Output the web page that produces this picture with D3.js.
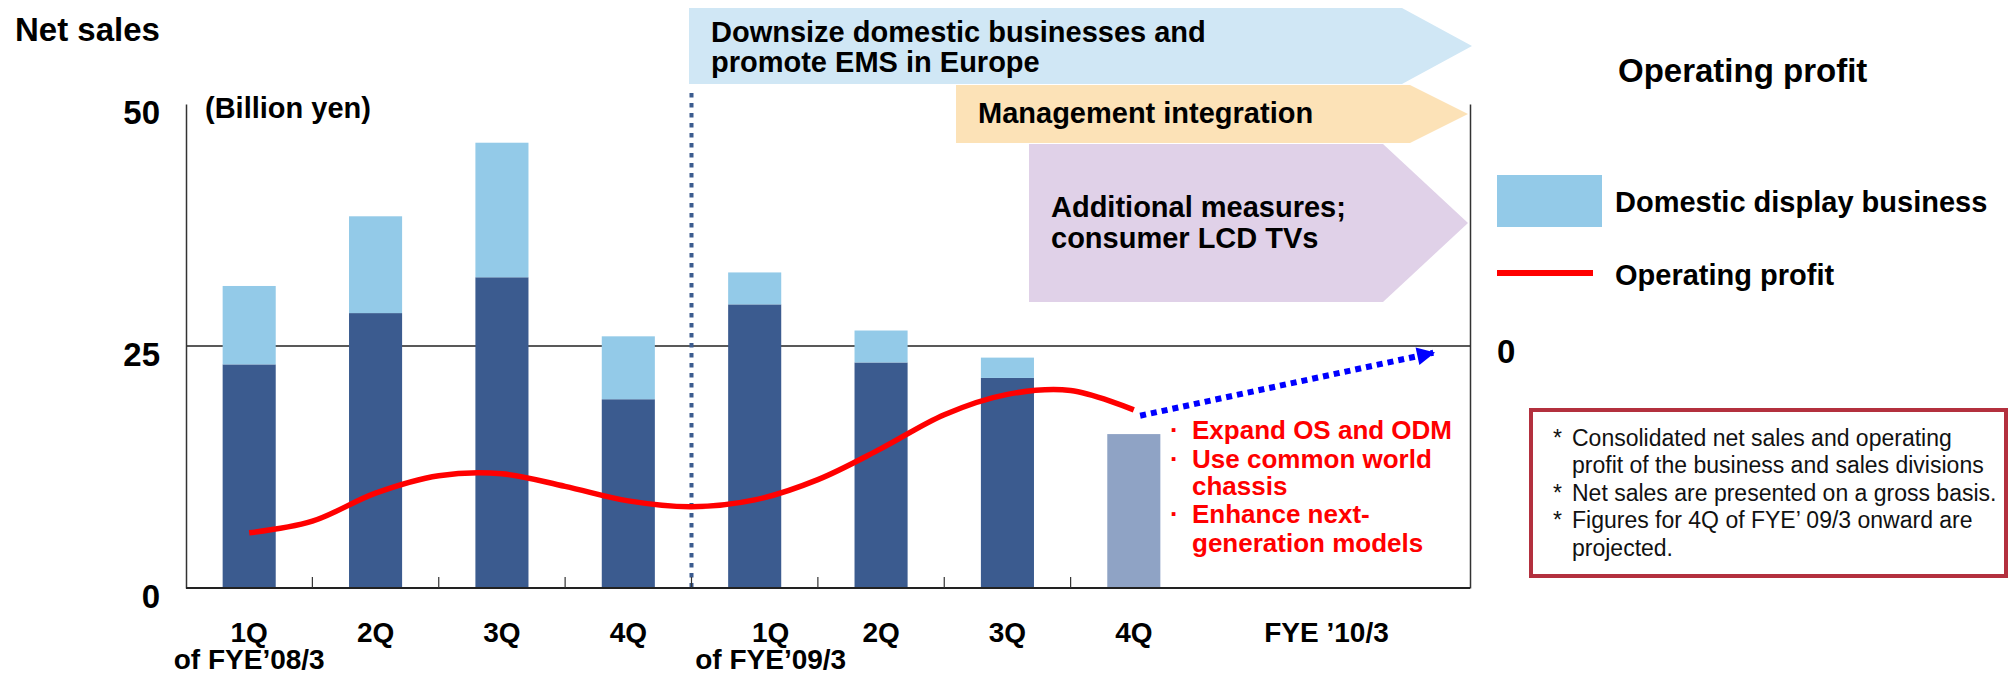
<!DOCTYPE html>
<html>
<head>
<meta charset="utf-8">
<script src="https://cdn.jsdelivr.net/npm/d3@7"></script>
<style>
  body { margin: 0; background: #fff; }
  text { font-family: "Liberation Sans", Arial, sans-serif; }
</style>
</head>
<body>
<div id="chart"></div>
<script>
// data
var periods = ["1Q-08", "2Q-08", "3Q-08", "4Q-08", "1Q-09", "2Q-09", "3Q-09", "4Q-09"];
var quarterLabels = ["1Q", "2Q", "3Q", "4Q", "1Q", "2Q", "3Q", "4Q"];
var yearLabels = ["of FYE\u201908/3", "", "", "", "of FYE\u201909/3", "", "", ""];
var otherSales = [23.1, 28.4, 32.1, 19.5, 29.3, 23.3, 21.7, 15.9];
var domesticSales = [8.1, 10.0, 13.9, 6.5, 3.3, 3.3, 2.1, 0];
var projected = [false, false, false, false, false, false, false, true];

// operating profit, read at half-quarter steps (index units)
var profitSteps = [0, 0.5, 1, 1.5, 2, 2.5, 3, 3.5, 4, 4.5, 5, 5.5, 6, 6.5, 7];
var operatingProfit = [-19.3, -18.1, -15.2, -13.4, -13.2, -14.5, -16.0, -16.6, -15.9, -13.8, -10.6, -7.1, -5.0, -4.6, -6.6];
var projSteps = [7.05, 9.37];
var projProfit = [-7.2, -0.7];

var leftTicks = [0, 25, 50];
var rightTicks = [0];
var nextYearLabel = "FYE \u201910/3";

var banners = [
  ["Downsize domestic businesses and", "promote EMS in Europe"],
  ["Management integration"],
  ["Additional measures;", "consumer LCD TVs"]
];
var measures = [["Expand OS and ODM"], ["Use common world", "chassis"], ["Enhance next-", "generation models"]];
var notes = [
  ["Consolidated net sales and operating", "profit of the business and sales divisions"],
  ["Net sales are presented on a gross basis."],
  ["Figures for 4Q of FYE\u2019 09/3 onward are", "projected."]
];

var svgWidth = 2011, svgHeight = 675;
var plot = { left: 186, right: 1470, top: 104, bottom: 588, barsEnd: 1197 };

var svg = d3.select("#chart").append("svg")
  .attr("width", svgWidth)
  .attr("height", svgHeight);

// scales
var xScale = d3.scaleBand()
  .domain(periods)
  .range([plot.left, plot.barsEnd])
  .paddingInner(0.58)
  .paddingOuter(0.29);

var step = xScale.step();
var c0 = xScale(periods[0]) + xScale.bandwidth() / 2;
var xPos = d3.scaleLinear().domain([0, 7]).range([c0, c0 + 7 * step]);

var yLeft = d3.scaleLinear().domain([0, 50]).range([plot.bottom, plot.top]);
var yRight = d3.scaleLinear().domain([-25, 25]).range([plot.bottom, plot.top]);

// banners (arrow shapes)
var bannerShapes = [
  { x0: 689, x1: 1402, tip: 1472, y0: 8, y1: 84, fill: "#d0e7f5", tx: 711, ty: [42, 72] },
  { x0: 956, x1: 1410, tip: 1468, y0: 85, y1: 143, fill: "#fce2b7", tx: 978, ty: [123] },
  { x0: 1029, x1: 1383, tip: 1468, y0: 144, y1: 302, fill: "#e0d1e8", tx: 1051, ty: [217, 248] }
];
bannerShapes.forEach(function(b, i) {
  var ym = (b.y0 + b.y1) / 2;
  svg.append("polygon")
    .attr("points", [[b.x0, b.y0], [b.x1, b.y0], [b.tip, ym], [b.x1, b.y1], [b.x0, b.y1]].join(" "))
    .attr("fill", b.fill);
  banners[i].forEach(function(line, j) {
    svg.append("text")
      .attr("x", b.tx).attr("y", b.ty[j])
      .attr("font-size", 29).attr("font-weight", "bold")
      .text(line);
  });
});

// 25 / zero-profit line
svg.append("line")
  .attr("x1", plot.left).attr("x2", plot.right)
  .attr("y1", yLeft(25)).attr("y2", yLeft(25))
  .attr("stroke", "#222").attr("stroke-width", 1.5);

// bars
var barData = periods.map(function(p, i) {
  return { p: p, other: otherSales[i], dom: domesticSales[i], proj: projected[i] };
});

var bars = svg.append("g");
bars.selectAll("rect.other")
  .data(barData)
  .enter()
  .append("rect")
  .attr("class", "other")
  .attr("x", d => xScale(d.p))
  .attr("width", xScale.bandwidth())
  .attr("y", d => yLeft(d.other))
  .attr("height", d => yLeft(0) - yLeft(d.other))
  .attr("fill", d => d.proj ? "#8fa3c5" : "#3b5b8f");

bars.selectAll("rect.dom")
  .data(barData.filter(d => d.dom > 0))
  .enter()
  .append("rect")
  .attr("class", "dom")
  .attr("x", d => xScale(d.p))
  .attr("width", xScale.bandwidth())
  .attr("y", d => yLeft(d.other + d.dom))
  .attr("height", d => yLeft(d.other) - yLeft(d.other + d.dom))
  .attr("fill", "#93cae8");

// dashed divider between fiscal years
var divX = xScale(periods[4]) - step * 0.29;
svg.append("line")
  .attr("x1", divX).attr("x2", divX)
  .attr("y1", 93).attr("y2", plot.bottom)
  .attr("stroke", "#3b5b8f")
  .attr("stroke-width", 4)
  .attr("stroke-dasharray", "4.5,5.5");

// axes
var leftAxis = svg.append("g")
  .attr("transform", `translate(${plot.left},0)`)
  .call(d3.axisLeft(yLeft).tickValues(leftTicks).tickSize(0).tickSizeOuter(0).tickPadding(26));
leftAxis.select(".domain").attr("stroke", "#333").attr("stroke-width", 1.5);
leftAxis.selectAll("text")
  .attr("font-size", 33).attr("font-weight", "bold")
  .attr("font-family", "Liberation Sans, Arial, sans-serif")
  .attr("fill", "#000")
  .attr("dy", "0.58em");

var rightAxis = svg.append("g")
  .attr("transform", `translate(${plot.right},0)`)
  .call(d3.axisRight(yRight).tickValues(rightTicks).tickSize(0).tickSizeOuter(0).tickPadding(27));
rightAxis.select(".domain").attr("stroke", "#333").attr("stroke-width", 1.5);
rightAxis.selectAll("text")
  .attr("font-size", 33).attr("font-weight", "bold")
  .attr("font-family", "Liberation Sans, Arial, sans-serif")
  .attr("fill", "#000")
  .attr("dy", "0.5em");

// baseline with inner ticks at band edges
svg.append("line")
  .attr("x1", plot.left).attr("x2", plot.right)
  .attr("y1", plot.bottom).attr("y2", plot.bottom)
  .attr("stroke", "#222").attr("stroke-width", 2);

svg.append("g")
  .selectAll("line")
  .data(d3.range(1, 8))
  .enter()
  .append("line")
  .attr("x1", i => plot.left + i * step)
  .attr("x2", i => plot.left + i * step)
  .attr("y1", plot.bottom - 11)
  .attr("y2", plot.bottom)
  .attr("stroke", "#333").attr("stroke-width", 1.2);

// operating profit line
var profitLine = d3.line()
  .x(d => xPos(d[0]))
  .y(d => yRight(d[1]))
  .curve(d3.curveCatmullRom);

svg.append("path")
  .datum(profitSteps.map((s, i) => [s, operatingProfit[i]]))
  .attr("d", profitLine)
  .attr("fill", "none")
  .attr("stroke", "#ff0000")
  .attr("stroke-width", 5.5);

// projection arrow
svg.append("defs").append("marker")
  .attr("id", "arrow")
  .attr("markerUnits", "userSpaceOnUse")
  .attr("markerWidth", 20).attr("markerHeight", 18)
  .attr("viewBox", "0 0 10 10")
  .attr("refX", 9).attr("refY", 5)
  .attr("orient", "auto")
  .append("path")
  .attr("d", "M0,0 L10,5 L0,10 z")
  .attr("fill", "#0000ff");

svg.append("path")
  .datum(projSteps.map((s, i) => [s, projProfit[i]]))
  .attr("d", d3.line().x(d => xPos(d[0])).y(d => yRight(d[1])))
  .attr("fill", "none")
  .attr("stroke", "#0000ff")
  .attr("stroke-width", 6)
  .attr("stroke-dasharray", "6,5")
  .attr("marker-end", "url(#arrow)");

// x labels
var xl = svg.append("g");
xl.selectAll("text.q")
  .data(periods)
  .enter()
  .append("text")
  .attr("class", "q")
  .attr("x", (d, i) => xScale(d) + xScale.bandwidth() / 2 + (i == 4 ? 16 : 0))
  .attr("y", 642)
  .attr("text-anchor", "middle")
  .attr("font-size", 28).attr("font-weight", "bold")
  .text((d, i) => quarterLabels[i]);

xl.selectAll("text.fy")
  .data(periods)
  .enter()
  .append("text")
  .attr("class", "fy")
  .attr("x", (d, i) => xScale(d) + xScale.bandwidth() / 2 + (i == 4 ? 16 : 0))
  .attr("y", 669)
  .attr("text-anchor", "middle")
  .attr("font-size", 28).attr("font-weight", "bold")
  .text((d, i) => yearLabels[i]);

xl.append("text")
  .attr("x", (plot.barsEnd + plot.right) / 2 - 7)
  .attr("y", 642)
  .attr("text-anchor", "middle")
  .attr("font-size", 28).attr("font-weight", "bold")
  .text(nextYearLabel);

// titles
svg.append("text")
  .attr("x", 15).attr("y", 41)
  .attr("font-size", 33).attr("font-weight", "bold")
  .text("Net sales");

svg.append("text")
  .attr("x", 205).attr("y", 118)
  .attr("font-size", 29).attr("font-weight", "bold")
  .text("(Billion yen)");

svg.append("text")
  .attr("x", 1618).attr("y", 82)
  .attr("font-size", 33).attr("font-weight", "bold")
  .text("Operating profit");

// red measures list
var my = [439, 468, 495, 523, 552];
var k = 0;
measures.forEach(function(item) {
  item.forEach(function(line, j) {
    if (j == 0) {
      svg.append("text")
        .attr("x", 1170).attr("y", my[k])
        .attr("font-size", 26).attr("font-weight", "bold")
        .attr("fill", "#ff0000")
        .text("\u00b7");
    }
    svg.append("text")
      .attr("x", 1192).attr("y", my[k])
      .attr("font-size", 26).attr("font-weight", "bold")
      .attr("fill", "#ff0000")
      .text(line);
    k++;
  });
});

// legend
svg.append("rect")
  .attr("x", 1497).attr("y", 175)
  .attr("width", 105).attr("height", 52)
  .attr("fill", "#93cae8");
svg.append("text")
  .attr("x", 1615).attr("y", 212)
  .attr("font-size", 29).attr("font-weight", "bold")
  .text("Domestic display business");

svg.append("line")
  .attr("x1", 1497).attr("x2", 1593)
  .attr("y1", 273).attr("y2", 273)
  .attr("stroke", "#ff0000").attr("stroke-width", 6);
svg.append("text")
  .attr("x", 1615).attr("y", 285)
  .attr("font-size", 29).attr("font-weight", "bold")
  .text("Operating profit");

// notes box
svg.append("rect")
  .attr("x", 1531).attr("y", 410)
  .attr("width", 475).attr("height", 166)
  .attr("fill", "none")
  .attr("stroke", "#b3303e")
  .attr("stroke-width", 4);

var ny = [446, 473, 501, 528, 556];
k = 0;
notes.forEach(function(item) {
  item.forEach(function(line, j) {
    if (j == 0) {
      svg.append("text")
        .attr("x", 1553).attr("y", ny[k])
        .attr("font-size", 23).attr("fill", "#111")
        .text("*");
    }
    svg.append("text")
      .attr("x", 1572).attr("y", ny[k])
      .attr("font-size", 23).attr("fill", "#111")
      .text(line);
    k++;
  });
});
</script>
</body>
</html>
